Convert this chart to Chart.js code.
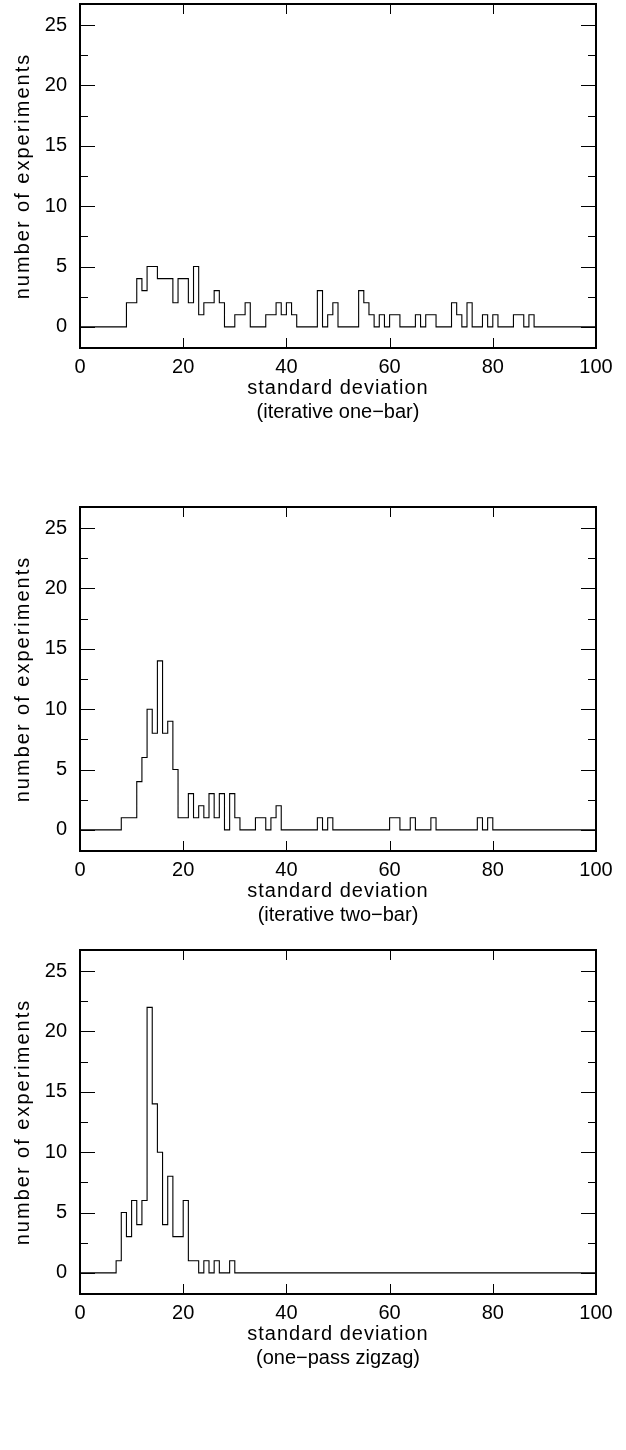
<!DOCTYPE html>
<html>
<head>
<meta charset="utf-8">
<script src="https://cdn.jsdelivr.net/npm/chart.js@4.4.1/dist/chart.umd.min.js"></script>
<style>
    body { margin: 0; background: #fff; }
    .panel { position: absolute; left: 0; width: 626px; height: 430px; }
</style>
</head>
<body>
<div class="panel" style="top:0px"><canvas id="oneBarChart" width="626" height="430"></canvas></div>
<div class="panel" style="top:503px"><canvas id="twoBarChart" width="626" height="430"></canvas></div>
<div class="panel" style="top:946px"><canvas id="zigzagChart" width="626" height="430"></canvas></div>
<script>
// histogram bins are 1 unit wide, counts start at the given first bin
const xTicks = [0, 20, 40, 60, 80, 100];
const yTicks = [0, 5, 10, 15, 20, 25];
const yMinorTicks = [2.5, 7.5, 12.5, 17.5, 22.5];

const oneBarFirst = 9;
const oneBarCounts = [2, 2, 4, 3, 5, 5, 4, 4, 4, 2, 4, 4, 2, 5, 1, 2, 2, 3, 2, 0,
    0, 1, 1, 2, 0, 0, 0, 1, 1, 2, 1, 2, 1, 0, 0, 0, 0, 3, 0, 1,
    2, 0, 0, 0, 0, 3, 2, 1, 0, 1, 0, 1, 1, 0, 0, 0, 1, 0, 1, 1,
    0, 0, 0, 2, 1, 0, 2, 0, 0, 1, 0, 1, 0, 0, 0, 1, 1, 0, 1];

const twoBarFirst = 8;
const twoBarCounts = [1, 1, 1, 4, 6, 10, 8, 14, 8, 9, 5, 1, 1, 3, 1, 2, 1, 3, 1, 3,
    0, 3, 1, 0, 0, 0, 1, 1, 0, 1, 2, 0, 0, 0, 0, 0, 0, 0, 1, 0,
    1, 0, 0, 0, 0, 0, 0, 0, 0, 0, 0, 0, 1, 1, 0, 0, 1, 0, 0, 0,
    1, 0, 0, 0, 0, 0, 0, 0, 0, 1, 0, 1];

const zigzagFirst = 7;
const zigzagCounts = [1, 5, 3, 6, 4, 6, 22, 14, 10, 4, 8, 3, 3, 6, 1, 1, 0, 1, 0, 1,
    0, 0, 1];

const FONT = {family: "'Liberation Sans', Arial, sans-serif", size: 20, lineHeight: '24px'};

function histogramPoints(first, counts) {
    let points = [];
    for (let i = 0; i < 100; i++) {
        let c = (i >= first && i < first + counts.length) ? counts[i - first] : 0;
        points.push({x: i, y: c});
    }
    points.push({x: 100, y: 0});
    return points;
}

// frame with inward tick marks on all four sides
const frameTicks = {
    id: 'frameTicks',
    afterDraw(chart) {
        const {ctx, chartArea: a, scales: {x, y}} = chart;
        ctx.save();
        ctx.strokeStyle = '#000';
        ctx.lineWidth = 1;
        ctx.beginPath();
        yTicks.forEach(v => {
            let py = Math.round(y.getPixelForValue(v)) + 0.5;
            ctx.moveTo(a.left, py); ctx.lineTo(a.left + 15, py);
            ctx.moveTo(a.right, py); ctx.lineTo(a.right - 15, py);
        });
        yMinorTicks.forEach(v => {
            let py = Math.round(y.getPixelForValue(v)) + 0.5;
            ctx.moveTo(a.left, py); ctx.lineTo(a.left + 8, py);
            ctx.moveTo(a.right, py); ctx.lineTo(a.right - 8, py);
        });
        xTicks.slice(1, -1).forEach(v => {
            let px = Math.round(x.getPixelForValue(v)) + 0.5;
            ctx.moveTo(px, a.top); ctx.lineTo(px, a.top + 10);
            ctx.moveTo(px, a.bottom); ctx.lineTo(px, a.bottom - 10);
        });
        ctx.stroke();
        ctx.lineWidth = 2;
        ctx.strokeRect(a.left, a.top, a.right - a.left, a.bottom - a.top);
        ctx.restore();
    }
};

// axis titles in the reference are set a little wider than the tick numbers
const spacedTitles = {
    id: 'spacedTitles',
    beforeDraw(chart) {
        [['x', '1px'], ['y', '2px']].forEach(([id, spacing]) => {
            let s = chart.scales[id];
            if (s._spaced) return;
            let orig = s.drawTitle;
            s.drawTitle = function () {
                let prev = this.ctx.letterSpacing;
                this.ctx.letterSpacing = spacing;
                orig.call(this);
                this.ctx.letterSpacing = prev;
            };
            s._spaced = true;
        });
    }
};

function noPadding(s) {
    s.paddingTop = 0;
    s.paddingBottom = 0;
    s.paddingLeft = 0;
    s.paddingRight = 0;
}

function makeChart(canvasId, first, counts, subtitle) {
    let ctx = document.getElementById(canvasId);
    let chart = new Chart(ctx, {
        type: 'line',
        data: {
            datasets: [{
                data: histogramPoints(first, counts),
                borderColor: '#000',
                borderWidth: 1.1,
                stepped: true,
                pointRadius: 0,
                fill: false
            }]
        },
        options: {
            responsive: false,
            animation: false,
            layout: {padding: {top: 4, right: 30, left: 0, bottom: 0}},
            scales: {
                x: {
                    type: 'linear',
                    min: 0,
                    max: 100,
                    afterBuildTicks: s => { s.ticks = xTicks.map(v => ({value: v})); },
                    afterFit: s => { s.height = 52; noPadding(s); },
                    grid: {display: false, drawTicks: false},
                    border: {display: false},
                    ticks: {color: '#000', font: FONT, padding: 7, maxRotation: 0},
                    title: {
                        display: true,
                        text: 'standard deviation',
                        color: '#000',
                        font: FONT,
                        padding: {top: 0, bottom: 0}
                    }
                },
                y: {
                    type: 'linear',
                    min: -1.75,
                    max: 26.75,
                    afterBuildTicks: s => { s.ticks = yTicks.map(v => ({value: v})); },
                    afterFit: s => { s.width = 80; noPadding(s); },
                    grid: {display: false, drawTicks: false},
                    border: {display: false},
                    ticks: {color: '#000', font: FONT, padding: 13},
                    title: {
                        display: true,
                        text: 'number of experiments',
                        color: '#000',
                        font: FONT,
                        padding: {top: 11, bottom: 0}
                    }
                }
            },
            plugins: {
                legend: {display: false},
                tooltip: {enabled: false},
                subtitle: {
                    display: true,
                    position: 'bottom',
                    fullSize: false,
                    text: subtitle,
                    color: '#000',
                    font: FONT,
                    padding: {top: 0, bottom: 6}
                }
            }
        },
        plugins: [frameTicks, spacedTitles]
    });
    chart.draw();
    return chart;
}

makeChart('oneBarChart', oneBarFirst, oneBarCounts, '(iterative one\u2212bar)');
makeChart('twoBarChart', twoBarFirst, twoBarCounts, '(iterative two\u2212bar)');
makeChart('zigzagChart', zigzagFirst, zigzagCounts, '(one\u2212pass zigzag)');
</script>
</body>
</html>
